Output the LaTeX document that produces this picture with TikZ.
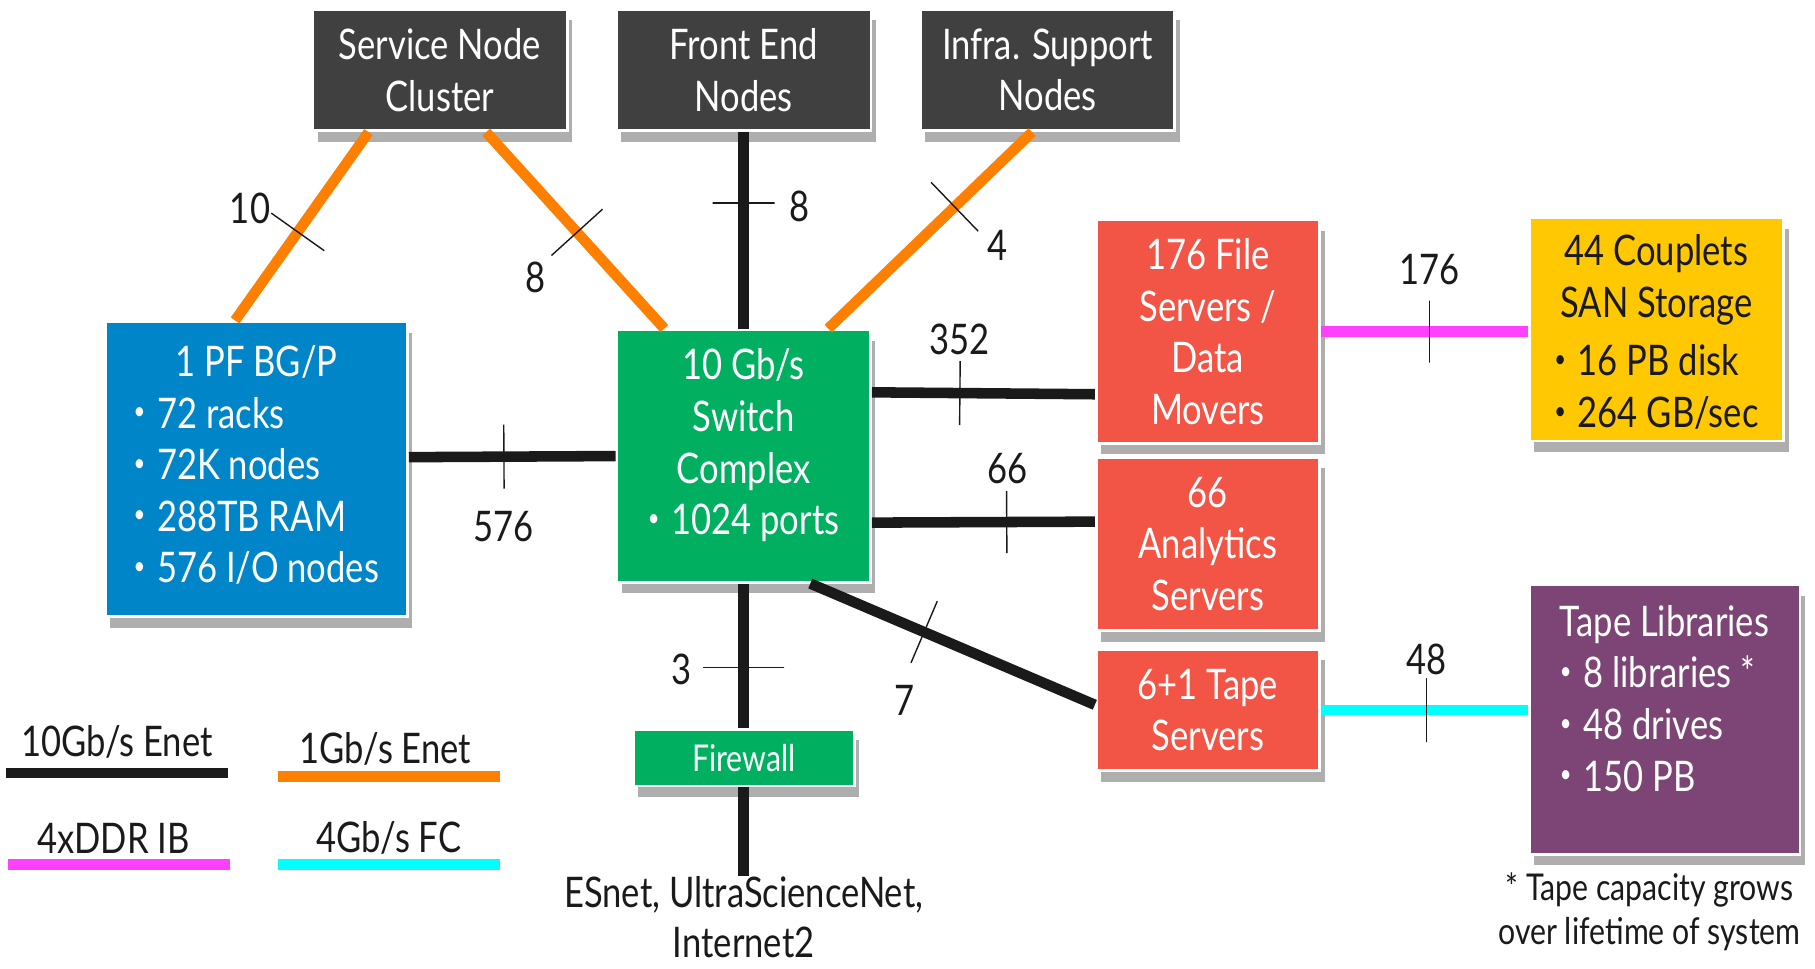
\documentclass[tikz,border=0pt]{standalone}
\usepackage{fontspec}
\setmainfont{Lato}[FakeStretch=0.82]
\usetikzlibrary{calc,shadows}

\definecolor{boxgray}{RGB}{64,64,64}
\definecolor{bgpblue}{RGB}{0,133,200}
\definecolor{swgreen}{RGB}{0,176,96}
\definecolor{srvred}{RGB}{242,84,70}
\definecolor{sanyellow}{RGB}{255,200,0}
\definecolor{tapepurple}{RGB}{125,69,117}
\definecolor{enetorange}{RGB}{255,128,0}
\definecolor{ibmagenta}{RGB}{255,64,255}
\definecolor{fccyan}{RGB}{0,255,255}
\definecolor{linkblack}{RGB}{26,26,26}

\newcommand{\itm}{\raisebox{0.2em}{\fontsize{7}{7}\selectfont\textbullet}\hspace{0.28em}}

\begin{document}
\begin{tikzpicture}[x=0.011575cm, y=-0.011575cm,
    boxtxt/.style={text=white, align=center, inner sep=0pt, font=\fontsize{12}{14.7}\selectfont},
    box/.style={boxtxt, draw=white, line width=0.8pt,
        drop shadow={shadow xshift=0.5mm, shadow yshift=-1.1mm, opacity=0.45, fill=black!70}},
    tenge/.style={linkblack, line width=3pt},
    onege/.style={enetorange, line width=3pt},
    ddrib/.style={ibmagenta, line width=3pt},
    fcsan/.style={fccyan, line width=3pt},
    tick/.style={draw=linkblack, line width=0.4pt, minimum width=0pt, minimum height=#1,
        inner sep=0pt, sloped},
    tick/.default=0.65cm,
    num/.style={text=linkblack, font=\fontsize{12}{14}\selectfont, inner sep=0pt},
    note/.style={text=linkblack, align=center, inner sep=0pt}]

    \useasboundingbox (0,0) rectangle (1568,837);

    % 上方三个节点
    \node[box, fill=boxgray, minimum width=2.547cm, minimum height=1.215cm] (service) at (380,60.5) {Service Node\\Cluster};
    \node[box, fill=boxgray, minimum width=2.547cm, minimum height=1.215cm] (front) at (642.5,60.5) {Front End\\Nodes};
    \node[box, fill=boxgray, minimum width=2.547cm, minimum height=1.215cm] (infra) at (905,60.5) {Infra. Support\\Nodes};

    % BG/P 与交换机
    \node[box, fill=bgpblue, minimum width=3.021cm, minimum height=2.952cm] (bgp) at (221.5,405.5)
        {\begin{tabular}{@{}l@{}}\multicolumn{1}{@{}c@{}}{1 PF BG/P}\\ \itm 72 racks\\ \itm 72K nodes\\ \itm 288TB RAM\\ \itm 576 I/O nodes\end{tabular}};
    \node[box, fill=swgreen, minimum width=2.535cm, minimum height=2.523cm] (switch) at (642.5,394)
        {\raisebox{2.6pt}[\height][\depth]{\begin{tabular}{@{}c@{}}10 Gb/s\\Switch\\Complex\\\itm 1024 ports\end{tabular}}};
    \node[box, fill=swgreen, minimum width=2.211cm, minimum height=0.567cm, font=\fontsize{10.5}{12}\selectfont] (firewall) at (642.5,654.5) {Firewall};
    \node[note, anchor=north, font=\fontsize{12}{14}\selectfont] (inet) at (642.5,757) {ESnet, UltraScienceNet,\\Internet2};

    % 服务器
    \node[box, fill=srvred, minimum width=2.234cm, minimum height=2.234cm] (fileserv) at (1043.5,286.5) {176 File\\Servers /\\Data\\Movers};
    \node[box, fill=srvred, minimum width=2.234cm, minimum height=1.736cm] (analytics) at (1043.5,470) {66\\Analytics\\Servers};
    \node[box, fill=srvred, minimum width=2.234cm, minimum height=1.215cm] (tapesrv) at (1043.5,613.5) {6+1 Tape\\Servers};

    % 存储
    \node[box, fill=sanyellow, text=linkblack, minimum width=2.547cm, minimum height=2.234cm] (san) at (1431,284.5)
        {\raisebox{-2pt}[\height][\depth]{\begin{tabular}{@{}l@{}}\multicolumn{1}{@{}c@{}}{44 Couplets}\\ \multicolumn{1}{@{}c@{}}{SAN Storage}\\[2pt] \itm 16 PB disk\\ \itm 264 GB/sec\end{tabular}}};
    \node[box, fill=tapepurple, minimum width=2.709cm, minimum height=2.697cm] (tapelib) at (1438,621.5) {};
    \node[boxtxt, anchor=north] (tapelibtxt) at ($(tapelib.north)+(0,14)$)
        {\begin{tabular}{@{}l@{}}\multicolumn{1}{@{}c@{}}{Tape Libraries}\\ \itm 8 libraries *\\ \itm 48 drives\\ \itm 150 PB\end{tabular}};
    \node[note, font=\fontsize{10.5}{12.5}\selectfont] (tapenote) at (1425,788) {* Tape capacity grows\\over lifetime of system};

    % 1Gb/s 连线
    \draw[onege] ($(service.south west)!0.223!(service.south east)$) -- node[tick=0.65cm, pos=0.53] (t10) {} ($(bgp.north west)!0.43!(bgp.north east)$);
    \draw[onege] ($(service.south west)!0.68!(service.south east)$) -- node[tick=0.69cm, pos=0.51] (t8a) {} ($(switch.north west)!0.19!(switch.north east)$);
    \draw[onege] ($(infra.south west)!0.44!(infra.south east)$) -- node[tick=0.68cm, pos=0.38] (t4) {} ($(switch.north west)!0.83!(switch.north east)$);

    % 10Gb/s 连线
    \draw[tenge] (front.south) -- node[tick=0.62cm, pos=0.36] (t8b) {} (switch.north);
    \draw[tenge] ($(bgp.north east)!0.459!(bgp.south east)$) -- node[tick=0.64cm, pos=0.46] (t576) {} (switch.west);
    \draw[tenge] ($(switch.north east)!0.25!(switch.south east)$) -- node[tick=0.64cm, pos=0.395] (t352) {} ($(fileserv.north west)!0.777!(fileserv.south west)$);
    \draw[tenge] ($(switch.north east)!0.761!(switch.south east)$) -- node[tick=0.62cm, pos=0.605] (t66) {} ($(analytics.north west)!0.373!(analytics.south west)$);
    \draw[tenge] ($(switch.south west)!0.76!(switch.south east)$) -- node[tick=0.67cm, pos=0.4] (t7) {} ($(tapesrv.north west)!0.457!(tapesrv.south west)$);
    \draw[tenge] (switch.south) -- node[tick=0.81cm, pos=0.58] (t3) {} (firewall.north);
    \draw[tenge] (firewall.south) -- (inet.north);

    % IB 与 FC
    \draw[ddrib] (fileserv.east) -- node[tick=0.62cm, pos=0.525] (t176) {} (fileserv.east -| san.west);
    \draw[fcsan] (tapesrv.east) -- node[tick=0.64cm, pos=0.51] (t48) {} (tapesrv.east -| tapelib.west);

    % 数量标注
    \node[num] (n10) at (216,180) {10};
    \node[num] (n8a) at (463,240) {8};
    \node[num] (n8b) at (691,178) {8};
    \node[num] (n4) at (862,212) {4};
    \node[num] (n576) at (435,455) {576};
    \node[num] (n352) at (829,293) {352};
    \node[num] (n66) at (870,405) {66};
    \node[num] (n7) at (781,605) {7};
    \node[num] (n3) at (589,578) {3};
    \node[num] (n176) at (1235,233) {176};
    \node[num] (n48) at (1232,570) {48};

    % 图例
    \node[num] (lg10) at (101,641) {10Gb/s Enet};
    \draw[tenge] (5,668) -- (197,668);
    \node[num] (lg1) at (333,647) {1Gb/s Enet};
    \draw[onege] (240,671) -- (432,671);
    \node[num] (lgib) at (98,724) {4xDDR IB};
    \draw[ddrib] (7,747) -- (199,747);
    \node[num] (lgfc) at (336,724) {4Gb/s FC};
    \draw[fcsan] (240,747) -- (432,747);
\end{tikzpicture}
\end{document}
